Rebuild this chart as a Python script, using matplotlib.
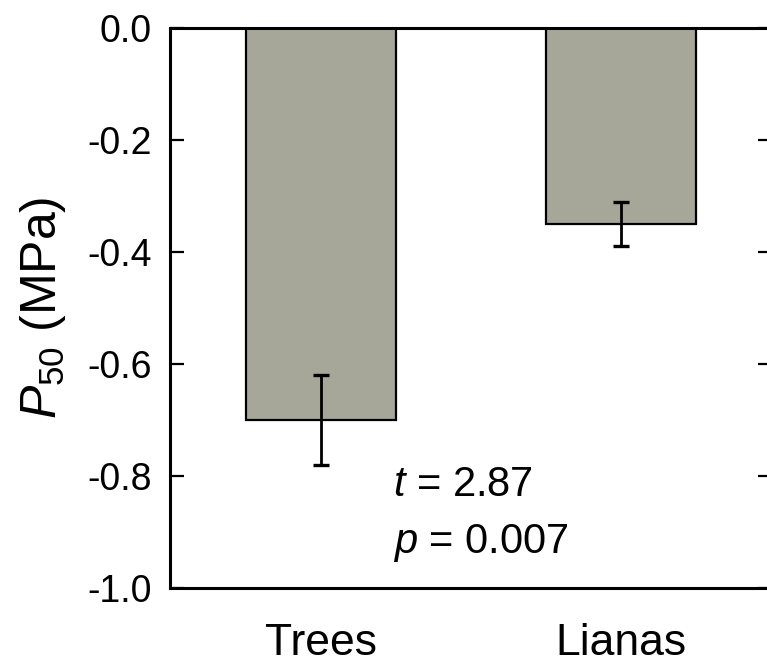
import numpy as np
import matplotlib
matplotlib.use("Agg")
import matplotlib.pyplot as plt
from matplotlib import font_manager

groups = ["Trees", "Lianas"]
p50_mean = [-0.70, -0.35]
p50_err = [0.08, 0.04]
yticks = [0.0, -0.2, -0.4, -0.6, -0.8, -1.0]
stat_lines = [r"$t$ = 2.87", r"$p$ = 0.007"]


def pick_font():
    names = {f.name for f in font_manager.fontManager.ttflist}
    for name in ["Liberation Sans Narrow", "Liberation Sans", "DejaVu Sans"]:
        if name in names:
            return name
    return "DejaVu Sans"


def main():
    font = pick_font()
    plt.rcParams["font.family"] = [font, "DejaVu Sans"]
    plt.rcParams["mathtext.fontset"] = "custom"
    plt.rcParams["mathtext.rm"] = font
    plt.rcParams["mathtext.it"] = font + ":italic"
    plt.rcParams["axes.unicode_minus"] = False

    fig = plt.figure(figsize=(7.67, 6.65), dpi=100)
    ax = fig.add_axes([0.2216, 0.1158, 0.7849, 0.8421])

    x = np.arange(len(groups))
    ax.bar(x, p50_mean, width=0.5, color="#a7a799", edgecolor="black",
           linewidth=1.6, zorder=2)
    ax.errorbar(x, p50_mean, yerr=p50_err, fmt="none", ecolor="black",
                elinewidth=2.0, capsize=5.5, capthick=2.4, zorder=3)

    ax.set_xlim(-0.503, 1.503)
    ax.set_ylim(-1.0, 0.0)
    ax.set_yticks(yticks)
    ax.set_yticklabels([f"{v:.1f}" for v in yticks])
    ax.set_xticks(x)
    ax.set_xticklabels(groups, fontsize=32)

    ax.tick_params(axis="y", direction="in", length=10, width=1.6,
                   labelsize=27, pad=13, right=True)
    ax.tick_params(axis="x", length=0, pad=25)
    for s in ax.spines.values():
        s.set_linewidth(2.2)

    ax.set_ylabel(r"$P_{50}$ (MPa)", fontsize=36, labelpad=14)

    for i, line in enumerate(stat_lines):
        ax.text(0.24, -0.816 - 0.104 * i, line, fontsize=30,
                ha="left", va="center")

    plt.savefig("out.png", dpi=100)


if __name__ == "__main__":
    main()
